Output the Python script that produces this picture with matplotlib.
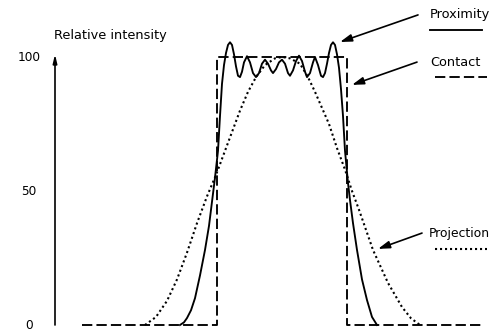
import matplotlib
matplotlib.use('Agg')
import matplotlib.pyplot as plt

# position (arbitrary units, 0 = mask centre) and relative intensity (%)
contact_x = [-200, -65, -65, 65, 65, 199]
contact_y = [0, 0, 100, 100, 0, 0]

prox_x = [-102, -98, -95, -91, -87, -82, -77, -73, -70, -67, -64, -62, -60, -58,
          -56, -54, -52, -50, -48, -46, -44, -42, -40,
          -38, -35, -32, -29, -26, -23, -20, -17, -14, -11, -9, -6, -3, 0, 3, 6,
          8, 11, 14, 17, 20, 23, 25, 28, 31, 33, 36, 39, 41, 43, 45, 47, 49, 51,
          53, 55, 57, 59, 61, 63, 66, 68, 71, 75, 80, 85, 90, 95]
prox_y = [0, 1, 2.6, 5.5, 10, 18.5, 28, 37, 46, 55, 65, 78, 90, 97,
          101.5, 104.5, 105.5, 104.5, 101, 96.5, 93, 92.5, 94.5,
          98, 100.3, 98, 94, 92.5, 94, 97.5, 99, 97.5, 95, 94, 95.5, 98, 99, 97.5, 94,
          93, 95, 98.5, 100.5, 98.5, 94.5, 92.5, 94, 98, 100, 97, 93, 92.5, 94, 97.5, 101.5, 104.5, 105.5,
          104.5, 101, 96, 88, 78, 65, 53, 46.6, 38, 28, 17, 9.3, 3, 0]

proj_x = [-137, -126, -115, -105, -95, -85, -75, -66, -58, -50, -42, -34, -26, -17, -7,
          0, 8, 18, 26, 33, 40, 47, 55, 63, 70, 77, 91, 106, 120, 129, 138]
proj_y = [0, 3, 9, 17, 27, 38, 48, 56, 64, 72, 80, 87, 92.5, 97, 99.5,
          100, 99.5, 97.5, 92.5, 87, 81, 75, 66, 58, 50, 43, 28, 15.7, 6.7, 2.5, 0]

y_ticks = [0, 50, 100]

lw = 1.35
dashed = (0, (5.5, 2.2))
dotted = (0, (1, 1.4))
fs = 9.3

fig = plt.figure(figsize=(4.92, 3.35), dpi=100)
ax = fig.add_axes([0, 0, 1, 1])
ax.set_xlim(-282, 210)
ax.set_ylim(-3.73, 121.27)
ax.axis('off')

ax.plot(contact_x, contact_y, color='black', lw=lw, linestyle=dashed)
ax.plot(prox_x, prox_y, color='black', lw=lw)
ax.plot(proj_x, proj_y, color='black', lw=1.5, linestyle=dotted)

# vertical axis with arrow
ax.annotate('', xy=(-227, 101), xytext=(-227, 0),
            arrowprops=dict(arrowstyle='-|>,head_length=0.5,head_width=0.12',
                            color='black', lw=1.2, shrinkA=0, shrinkB=0))
for t in y_ticks:
    ax.text(-253, t, str(t), ha='center', va='center', fontsize=8.7)
ax.text(-228, 108.2, 'Relative intensity', ha='left', va='center', fontsize=fs)

arrow = dict(arrowstyle='-|>,head_length=0.7,head_width=0.22', color='black',
             lw=1.2, shrinkA=0, shrinkB=0)

ax.annotate('', xy=(58, 105.6), xytext=(136, 115.7), arrowprops=arrow)
ax.text(148, 115.7, 'Proximity', ha='left', va='center', fontsize=fs)
ax.plot([148, 200], [110, 110], color='black', lw=lw)

ax.annotate('', xy=(70, 89.6), xytext=(135, 98.1), arrowprops=arrow)
ax.text(148, 97.8, 'Contact', ha='left', va='center', fontsize=fs)
ax.plot([153, 205], [92.5, 92.5], color='black', lw=lw, linestyle=dashed)

ax.annotate('', xy=(96, 28.4), xytext=(140, 34.3), arrowprops=arrow)
ax.text(147, 34.3, 'Projection', ha='left', va='center', fontsize=8.9)
ax.plot([153, 205], [28.4, 28.4], color='black', lw=1.5, linestyle=dotted)

fig.savefig('out.png', dpi=100)
